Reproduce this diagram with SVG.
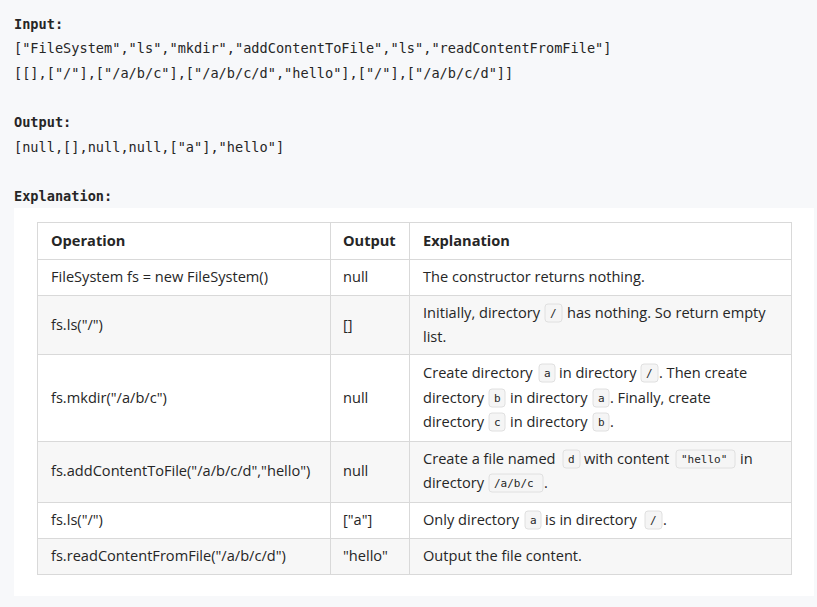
<svg xmlns="http://www.w3.org/2000/svg" width="817" height="607" viewBox="0 0 817 607">
<style>
.m{font-family:"DejaVu Sans Mono","Liberation Mono",monospace;font-size:13.6px;fill:#262626}
.mb{font-family:"DejaVu Sans Mono","Liberation Mono",monospace;font-size:13.6px;font-weight:bold;fill:#262626}
.t{font-family:"Open Sans","Noto Sans",sans-serif;font-size:14.6px;fill:#262626}
.th{font-family:"Open Sans","Noto Sans",sans-serif;font-size:14.6px;font-weight:bold;fill:#262626}
.c{font-family:"DejaVu Sans Mono","Liberation Mono",monospace;font-size:11px;fill:#262626}
.cb{fill:#f5f5f5;stroke:#e0e0e0;stroke-width:1}
.g{fill:#f7f7f7}
.ln{stroke:#d9d9d9;stroke-width:1;fill:none}
</style>
<rect width="817" height="607" fill="#f7f8fa"/>
<text class="mb" x="14" y="29">Input:</text>
<text class="m" x="14" y="53">["FileSystem","ls","mkdir","addContentToFile","ls","readContentFromFile"]</text>
<text class="m" x="14" y="78">[[],["/"],["/a/b/c"],["/a/b/c/d","hello"],["/"],["/a/b/c/d"]]</text>
<text class="mb" x="14" y="127">Output:</text>
<text class="m" x="14" y="152">[null,[],null,null,["a"],"hello"]</text>
<text class="mb" x="14" y="201">Explanation:</text>
<rect x="14" y="208" width="800" height="388" fill="#ffffff"/>
<g id="table">
<rect class="g" x="37" y="295" width="754" height="59"/>
<rect class="g" x="37" y="441" width="754" height="61"/>
<rect class="g" x="37" y="538" width="754" height="37"/>
<rect class="ln" x="37.5" y="222.5" width="754" height="352"/>
<path class="ln" d="M37 259.5H791M37 295.5H791M37 354.5H791M37 441.5H791M37 502.5H791M37 538.5H791M330.5 222V575M409.5 222V575"/>
</g>
<g id="header">
<text class="th" x="51" y="246">Operation</text>
<text class="th" x="343" y="246">Output</text>
<text class="th" x="423" y="246">Explanation</text>
</g>
<g id="row1">
<text class="t" x="51" y="282">FileSystem fs = new FileSystem()</text>
<text class="t" x="343" y="282">null</text>
<text class="t" x="423" y="282">The constructor returns nothing.</text>
</g>
<g id="row2">
<text class="t" x="51" y="330">fs.ls("/")</text>
<text class="t" x="343" y="330">[]</text>
<text class="t" x="423" y="318">Initially, directory</text>
<rect class="cb" x="545" y="304" width="17" height="18" rx="3"/><text class="c" x="550" y="317">/</text>
<text class="t" x="567" y="318">has nothing. So return empty</text>
<text class="t" x="423" y="342">list.</text>
</g>
<g id="row3">
<text class="t" x="51" y="403">fs.mkdir("/a/b/c")</text>
<text class="t" x="343" y="403">null</text>
<text class="t" x="423" y="378">Create directory</text>
<rect class="cb" x="539" y="364" width="16" height="18" rx="3"/><text class="c" x="544" y="377">a</text>
<text class="t" x="559" y="378">in directory</text>
<rect class="cb" x="641" y="364" width="17" height="18" rx="3"/><text class="c" x="646" y="377">/</text>
<text class="t" x="659" y="378">. Then create</text>
<text class="t" x="423" y="403">directory</text>
<rect class="cb" x="489" y="389" width="16" height="18" rx="3"/><text class="c" x="494" y="402">b</text>
<text class="t" x="510" y="403">in directory</text>
<rect class="cb" x="593" y="389" width="16" height="18" rx="3"/><text class="c" x="598" y="402">a</text>
<text class="t" x="610" y="403">. Finally, create</text>
<text class="t" x="423" y="427">directory</text>
<rect class="cb" x="489" y="413" width="16" height="18" rx="3"/><text class="c" x="494" y="426">c</text>
<text class="t" x="510" y="427">in directory</text>
<rect class="cb" x="593" y="413" width="16" height="18" rx="3"/><text class="c" x="598" y="426">b</text>
<text class="t" x="610" y="427">.</text>
</g>
<g id="row4">
<text class="t" x="51" y="476">fs.addContentToFile("/a/b/c/d","hello")</text>
<text class="t" x="343" y="476">null</text>
<text class="t" x="423" y="464">Create a file named</text>
<rect class="cb" x="563" y="450" width="17" height="18" rx="3"/><text class="c" x="568" y="463">d</text>
<text class="t" x="584" y="464">with content</text>
<rect class="cb" x="676" y="450" width="59" height="18" rx="3"/><text class="c" x="681" y="463">"hello"</text>
<text class="t" x="740" y="464">in</text>
<text class="t" x="423" y="488">directory</text>
<rect class="cb" x="489" y="474" width="54" height="18" rx="3"/><text class="c" x="494" y="487">/a/b/c</text>
<text class="t" x="544" y="488">.</text>
</g>
<g id="row5">
<text class="t" x="51" y="525">fs.ls("/")</text>
<text class="t" x="343" y="525">["a"]</text>
<text class="t" x="423" y="525">Only directory</text>
<rect class="cb" x="525" y="511" width="16" height="18" rx="3"/><text class="c" x="530" y="524">a</text>
<text class="t" x="545" y="525">is in directory</text>
<rect class="cb" x="645" y="511" width="17" height="18" rx="3"/><text class="c" x="650" y="524">/</text>
<text class="t" x="663" y="525">.</text>
</g>
<g id="row6">
<text class="t" x="51" y="561">fs.readContentFromFile("/a/b/c/d")</text>
<text class="t" x="343" y="561">"hello"</text>
<text class="t" x="423" y="561">Output the file content.</text>
</g>
<g id="connectors"/>
</svg>
